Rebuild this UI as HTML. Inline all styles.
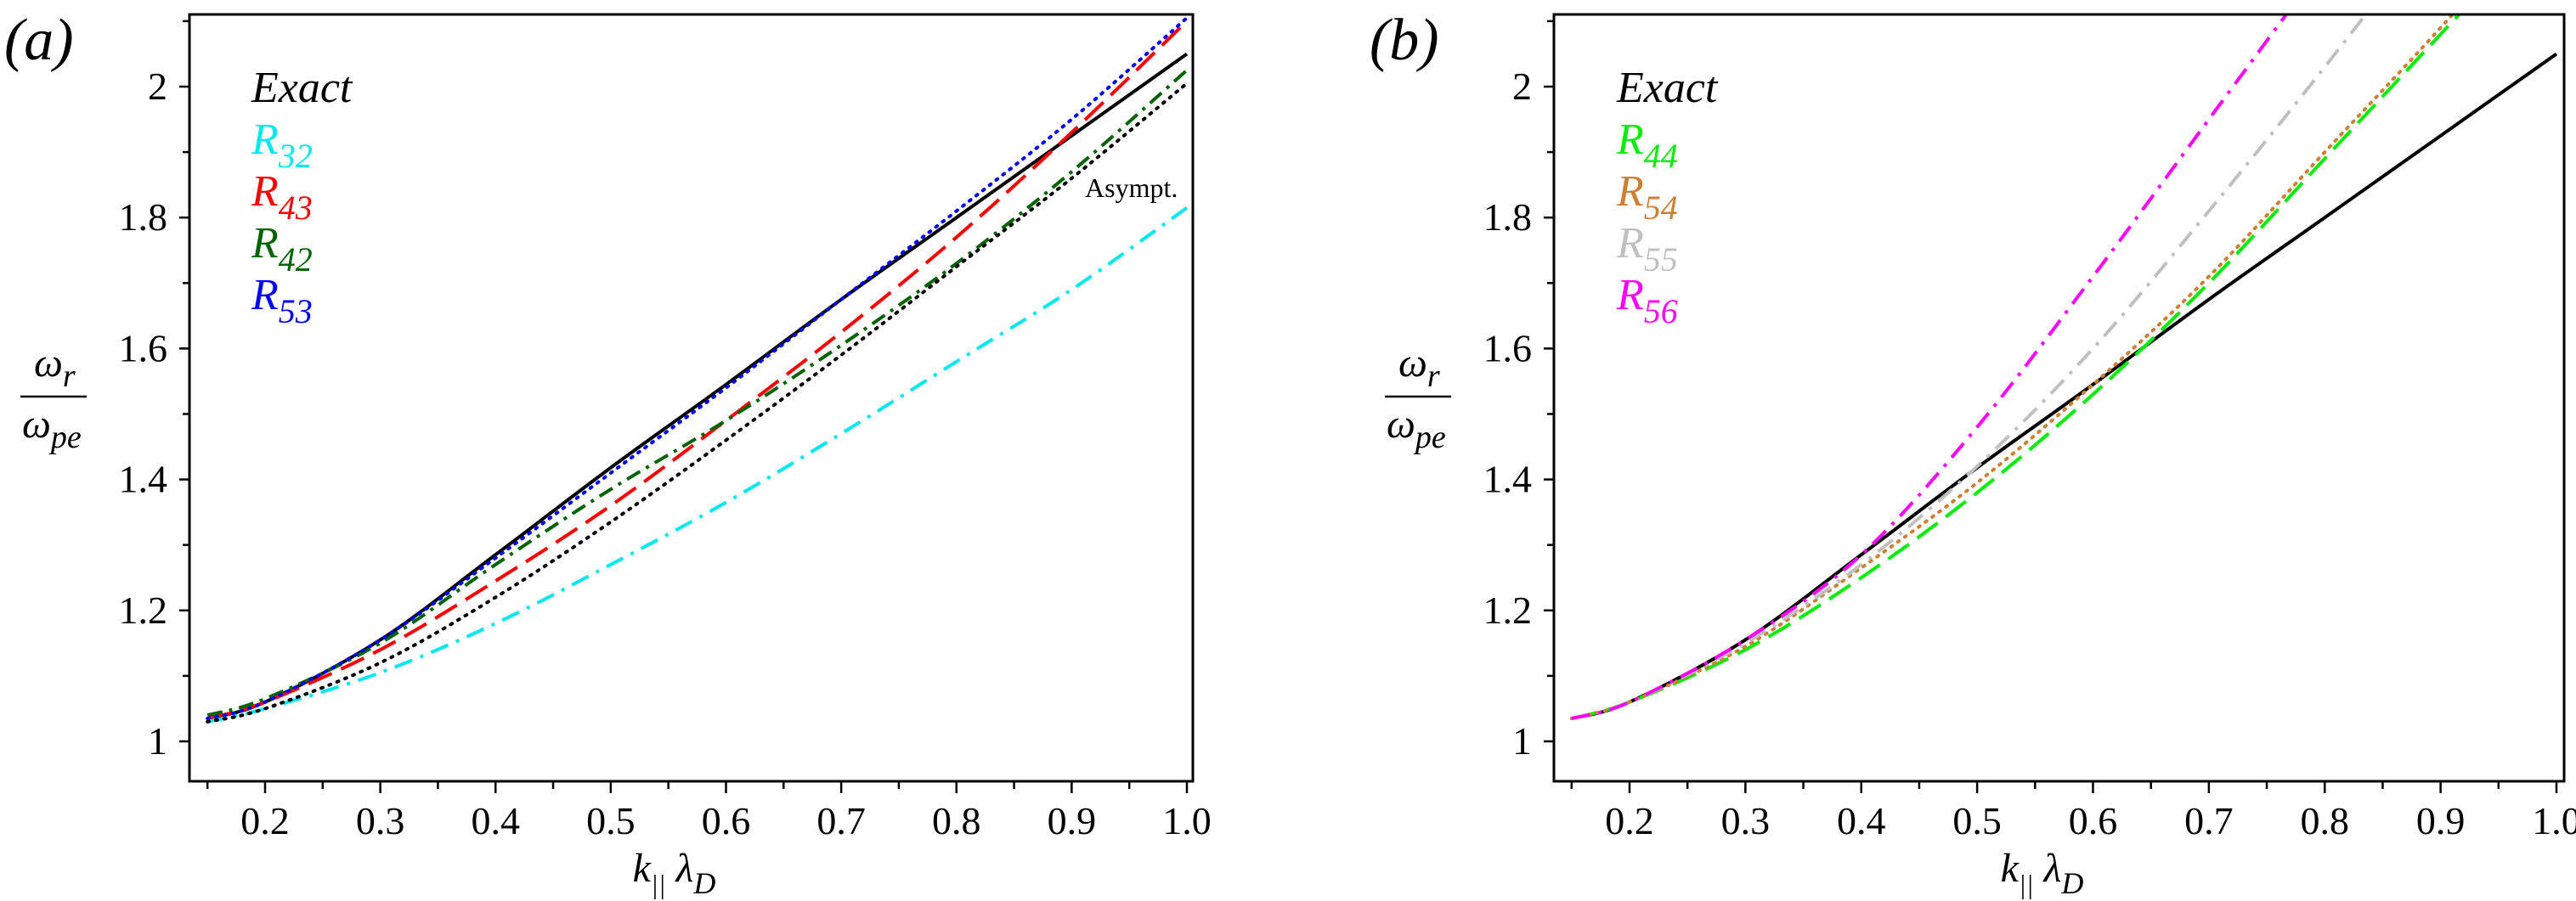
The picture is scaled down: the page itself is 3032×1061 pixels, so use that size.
<!DOCTYPE html>
<html><head><meta charset="utf-8"><style>
html,body{margin:0;padding:0;background:#fff;}
svg{display:block;}
svg text{font-family:"Liberation Serif","DejaVu Serif",serif;}
</style></head><body>
<svg id="fig" width="3032" height="1061" viewBox="0 0 3032 1061" xmlns="http://www.w3.org/2000/svg" font-family="Liberation Serif, serif"></svg>
<script>
const xTicks = [0.2,0.3,0.4,0.5,0.6,0.7,0.8,0.9,1.0];
const xTickLabels = ["0.2","0.3","0.4","0.5","0.6","0.7","0.8","0.9","1.0"];
const yTicks = [1,1.2,1.4,1.6,1.8,2];
const yTickLabels = ["1","1.2","1.4","1.6","1.8","2"];
const kGrid = [0.15,0.2,0.3,0.4,0.5,0.6,0.7,0.8,0.9,1.0];
const exactVals = [1.035,1.06,1.155,1.285,1.418,1.545,1.675,1.80,1.925,2.05];
const r32Vals = [1.03,1.05,1.105,1.18,1.27,1.365,1.47,1.58,1.69,1.815];
const r43Vals = [1.035,1.06,1.14,1.245,1.36,1.49,1.625,1.77,1.93,2.10];
const r42Vals = [1.04,1.065,1.15,1.27,1.385,1.49,1.605,1.73,1.87,2.025];
const r53Vals = [1.035,1.06,1.155,1.28,1.41,1.54,1.675,1.81,1.95,2.105];
const asymptVals = [1.03,1.05,1.12,1.22,1.335,1.46,1.59,1.725,1.86,2.005];
const r44Vals = [1.035,1.06,1.14,1.25,1.38,1.53,1.70,1.89,2.08,2.27];
const r54Vals = [1.035,1.06,1.145,1.265,1.395,1.545,1.71,1.90,2.09,2.29];
const r55Vals = [1.035,1.06,1.15,1.27,1.42,1.60,1.81,2.03,2.26,2.5];
const r56Vals = [1.035,1.06,1.155,1.285,1.48,1.71,1.95,2.19,2.43,2.67];

const NS="http://www.w3.org/2000/svg";
const svg=document.getElementById('fig');
const FF='Liberation Serif, serif';
function mk(tag,attrs,parent){const e=document.createElementNS(NS,tag);for(const k in attrs)e.setAttribute(k,attrs[k]);if(tag==='text')e.setAttribute('font-family',FF);(parent||svg).appendChild(e);return e;}

const panels=[
 {id:'a',fl:223,fr:1404,x02:312,x10:1397,labX:5,legX:296,fracX:24,fracW:78,
  series:[
   {name:'exact',vals:exactVals,color:'#000',dash:'',label:'Exact',sub:''},
   {name:'r32',vals:r32Vals,color:'#00e8f0',dash:'22 10 4 10',label:'R',sub:'32'},
   {name:'r43',vals:r43Vals,color:'#ff0000',dash:'30 12',label:'R',sub:'43'},
   {name:'r42',vals:r42Vals,color:'#006400',dash:'18 8 4 8',label:'R',sub:'42'},
   {name:'r53',vals:r53Vals,color:'#0000ff',dash:'2 8',label:'R',sub:'53'},
   {name:'asympt',vals:asymptVals,color:'#000',dash:'2 8',label:null}
  ]},
 {id:'b',fl:1829,fr:3018,x02:1918,x10:3009,labX:1612,legX:1903,fracX:1630,fracW:78,
  series:[
   {name:'exact',vals:exactVals,color:'#000',dash:'',label:'Exact',sub:''},
   {name:'r44',vals:r44Vals,color:'#00ee00',dash:'30 12',label:'R',sub:'44'},
   {name:'r54',vals:r54Vals,color:'#cd7f32',dash:'2 8',label:'R',sub:'54'},
   {name:'r55',vals:r55Vals,color:'#c0c0c0',dash:'22 10 4 10',label:'R',sub:'55'},
   {name:'r56',vals:r56Vals,color:'#ff00ff',dash:'22 10 4 10',label:'R',sub:'56'}
  ]}
];
const ft=17, fb=920, y1=873, y2=102;
function catmull(pts){let d='M'+pts[0][0]+','+pts[0][1];
 for(let i=0;i<pts.length-1;i++){const p0=pts[Math.max(0,i-1)],p1=pts[i],p2=pts[i+1],p3=pts[Math.min(pts.length-1,i+2)];
  const c1=[p1[0]+(p2[0]-p0[0])/6,p1[1]+(p2[1]-p0[1])/6],c2=[p2[0]-(p3[0]-p1[0])/6,p2[1]-(p3[1]-p1[1])/6];
  d+=' C'+c1[0]+','+c1[1]+' '+c2[0]+','+c2[1]+' '+p2[0]+','+p2[1];}
 return d;}

panels.forEach(P=>{
 const xs=v=>P.x02+(v-0.2)*(P.x10-P.x02)/0.8;
 const ys=v=>y1-(v-1)*(y1-y2);
 const g=mk('g',{});
 
 
 const cp=mk('clipPath',{id:'clip'+P.id},g);
 mk('rect',{x:P.fl,y:ft,width:P.fr-P.fl,height:fb-ft},cp);
 const lab=mk('text',{x:P.labX,y:70,'font-size':70,'font-style':'italic'},g);
 lab.textContent='('+P.id+')';
 
 
 const sg=mk('g',{'clip-path':'url(#clip'+P.id+')'},g);
 P.series.forEach(s=>{
  const pts=kGrid.map((k,i)=>[xs(k),ys(s.vals[i])]);
  const p=mk('path',{d:catmull(pts),fill:'none',stroke:s.color,'stroke-width':4,'stroke-dasharray':s.dash,'stroke-linecap':s.dash==='2 8'?'round':'butt'},sg);
  
  
 });
 const fr=mk('rect',{x:P.fl,y:ft,width:P.fr-P.fl,height:fb-ft,fill:'none',stroke:'#000','stroke-width':3},g);
 
 
 for(let i=0;i<=17;i++){const v=0.15+i*0.05;const x=xs(v);const major=(i%2===1);
  mk('line',{x1:x,x2:x,y1:fb,y2:fb+(major?14:9),stroke:'#000','stroke-width':2.5},g);}
 xTicks.forEach((v,i)=>{const t=mk('text',{x:xs(v),y:982,'font-size':46,'text-anchor':'middle'},g);t.textContent=xTickLabels[i];
  
  });
 for(let i=0;i<=11;i++){const v=1+i*0.1;const y=ys(v);const major=(i%2===0);
  mk('line',{x1:P.fl-(major?12:8),x2:P.fl,y1:y,y2:y,stroke:'#000','stroke-width':2.5},g);}
 yTicks.forEach((v,i)=>{const t=mk('text',{x:P.fl-26,y:ys(v)+15,'font-size':46,'text-anchor':'end'},g);t.textContent=yTickLabels[i];
  
  });
 const xt=mk('text',{x:(P.fl+P.fr)/2-20,y:1038,'font-size':48,'font-style':'italic','text-anchor':'middle'},g);
 xt.innerHTML='k<tspan dy="14" font-size="32">||</tspan><tspan dy="-14"> λ</tspan><tspan dy="14" font-size="36">D</tspan>';
 
 
 const yt=mk('g',{},g);
 
 
 const t1=mk('text',{x:P.fracX+16,y:443,'font-size':48,'font-style':'italic'},yt);t1.innerHTML='ω<tspan dy="12" font-size="38">r</tspan>';
 mk('line',{x1:P.fracX,x2:P.fracX+P.fracW,y1:467,y2:467,stroke:'#000','stroke-width':2.5},yt);
 const t2=mk('text',{x:P.fracX+2,y:515,'font-size':48,'font-style':'italic'},yt);t2.innerHTML='ω<tspan dy="12" font-size="38">pe</tspan>';
 const lg=mk('g',{},g);
 
 
 let ly=120;
 P.series.forEach(s=>{ if(!s.label) return;
  const t=mk('text',{x:P.legX,y:ly,'font-size':52,'font-style':'italic',fill:s.color},lg);
  t.innerHTML=s.sub?('R<tspan dy="16" font-size="40">'+s.sub+'</tspan>'):s.label;
  
  
  ly+=61;});
 if(P.id==='a'){const a=mk('text',{x:1277,y:232,'font-size':32},g);a.textContent='Asympt.';
  
  }
});
</script>
</body></html>
